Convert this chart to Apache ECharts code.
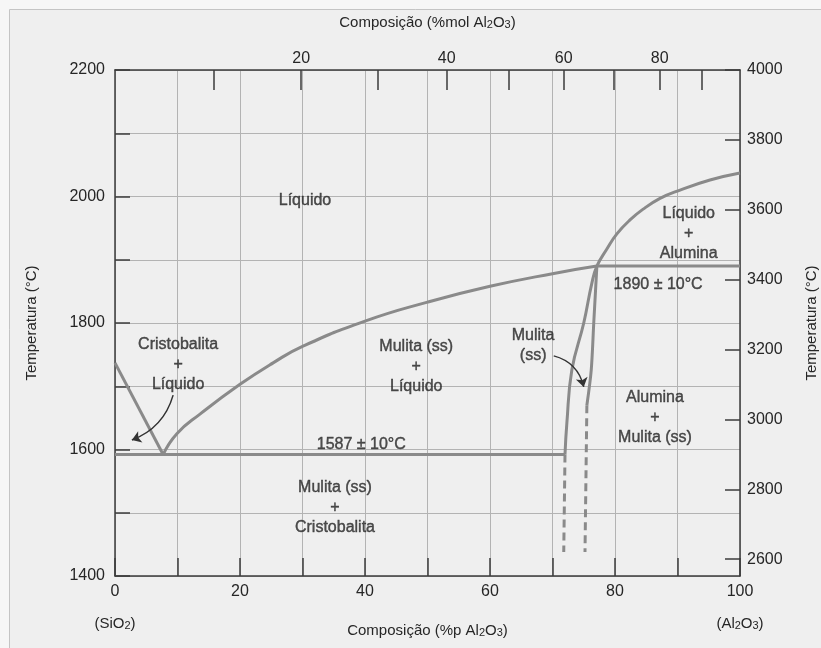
<!DOCTYPE html>
<html><head><meta charset="utf-8">
<script src="https://cdn.jsdelivr.net/npm/echarts@6/dist/echarts.min.js"></script>
<style>html,body{margin:0;padding:0;background:#f6f6f6}#c{width:821px;height:648px}</style>
</head><body><div id="c"></div>
<script>
// ---- data (wt% Al2O3, temperature °C) ----
const leftLiquidus = [[0,1737],[7.7,1592]];
const eutecticLine = [[0,1592],[72.0,1592]];
const mulliteLiquidus = [[7.7,1592],[9.9,1625],[13.6,1656],[20,1703],[25.3,1737],[30,1763],[40,1803],[50,1833],[60,1858],[70,1878],[77.1,1890]];
const aluminaLiquidus = [[72.0,1592],[72.3,1642],[73.1,1726],[75.0,1800],[76.3,1863],[77.1,1890],[78.7,1917],[80.3,1941],[82.4,1963],[84.5,1980],[87.2,1997],[90.1,2009],[95.2,2026],[100,2037]];
const peritecticLine = [[77.1,1890],[100,1890]];
const mulliteRight = [[77.1,1890],[76.6,1800],[76.2,1726],[75.5,1670]];
const mulliteLeftDashed = [[72.0,1592],[71.8,1438]];
const mulliteRightDashed = [[75.5,1670],[75.2,1438]];
const arrowFrom = [[9.3,1686],[70.2,1748]];
const arrowTo = [[2.7,1615],[75.0,1699]];
const arrowBend = [0.25,0.3];
const regionText = ['Líquido','Cristobalita\n+\nLíquido','Mulita (ss)\n+\nLíquido','1587 ± 10°C','Mulita (ss)\n+\nCristobalita','Mulita\n(ss)','Líquido\n+\nAlumina','1890 ± 10°C','Alumina\n+\nMulita (ss)'];
const regionX = [30.4,10.1,48.2,39.4,35.2,66.9,91.8,86.9,86.4];
const regionT = [1994,1735,1731,1608,1508,1765,1941,1860,1651];
const bottomLabels = [0,20,40,60,80,100];
const endMembers = {0:'{t|(SiO}{s|2}{t|)}', 100:'{t|(Al}{s|2}{t|O}{s|3}{t|)}'};
const leftLabels = [1400,1600,1800,2000,2200];
const rightTicks = [2600,2800,3000,3200,3400,3600,3800,4000];
const topMolTicks = [10,20,30,40,50,60,70,80,90];
const topMolLabels = [20,40,60,80];
const bottomTitle = '{t|Composição (%p Al}{s|2}{t|O}{s|3}{t|)}';
const topTitle = '{t|Composição (%mol Al}{s|2}{t|O}{s|3}{t|)}';
const tempTitle = 'Temperatura (°C)';
const M_AL = 101.96, M_SI = 60.08;
// ------------------------------------------------
const molToWt = m => 100*m*M_AL/(m*M_AL+(100-m)*M_SI);
const wtToMol = w => 100*(w/M_AL)/((w/M_AL)+((100-w)/M_SI));

const LINE = '#8a8a8a', FRAME = '#3c3c3c', GRID = '#b3b3b3', TXT = '#262626';
const FONT = 'Liberation Sans, Arial, sans-serif';
const subRich = {
  t:{fontFamily:FONT, fontSize:15, lineHeight:20, color:TXT, verticalAlign:'bottom'},
  s:{fontFamily:FONT, fontSize:11, lineHeight:12, color:TXT, verticalAlign:'bottom'}
};

function phase(data, dashed, smooth){
  return {type:'line', data, xAxisIndex:0, yAxisIndex:0, symbol:'none', smooth: smooth||false,
    lineStyle:{color:LINE, width:3, type: dashed ? [8,5] : 'solid'}, z:3, silent:true};
}

const chart = echarts.init(document.getElementById('c'), null, {renderer:'canvas'});
chart.setOption({
  animation:false,
  backgroundColor:'#f6f6f6',
  graphic:[{type:'rect', left:9, top:9, shape:{width:900, height:700}, style:{fill:'#efefef', stroke:'#c4c4c4', lineWidth:1}, z:-10}],
  grid:{left:115, right:81, top:70, bottom:72, outerBoundsMode:'none', containLabel:false},
  xAxis:[
    {type:'value', position:'bottom', min:0, max:100, interval:10,
     axisLine:{onZero:false, lineStyle:{color:FRAME, width:1.5}},
     axisTick:{inside:true, length:18, lineStyle:{color:FRAME, width:1.5}},
     splitLine:{show:true, lineStyle:{color:GRID, width:1}},
     axisLabel:{customValues:bottomLabels, margin:6, color:TXT,
       formatter: v => endMembers[v] ? '{n|'+v+'}\n' + endMembers[v] : '{n|'+v+'}',
       rich:{n:{fontSize:16, lineHeight:20, fontFamily:FONT, color:TXT},
             t:{fontFamily:FONT, fontSize:15, lineHeight:29, color:TXT, verticalAlign:'bottom'},
             s:{fontFamily:FONT, fontSize:11, lineHeight:20, color:TXT, verticalAlign:'bottom'}}},
     name:bottomTitle, nameLocation:'middle', nameGap:42, nameMoveOverlap:false,
     nameTextStyle:{rich:subRich}},
    {type:'value', position:'top', min:0, max:100,
     axisLine:{onZero:false, lineStyle:{color:FRAME, width:1.5}},
     axisTick:{inside:true, length:20, customValues: topMolTicks.map(molToWt), lineStyle:{color:FRAME, width:1.5}},
     splitLine:{show:false},
     axisLabel:{customValues: topMolLabels.map(molToWt), margin:3, color:TXT, fontFamily:FONT, fontSize:16,
       formatter: v => String(Math.round(wtToMol(v)))},
     name:topTitle, nameLocation:'middle', nameGap:40, nameMoveOverlap:false,
     nameTextStyle:{rich:subRich}}
  ],
  yAxis:[
    {type:'value', position:'left', min:1400, max:2200, interval:100,
     axisLine:{onZero:false, lineStyle:{color:FRAME, width:1.5}},
     axisTick:{inside:true, length:15, lineStyle:{color:FRAME, width:1.5}},
     splitLine:{show:true, lineStyle:{color:GRID, width:1}},
     axisLabel:{customValues:leftLabels, margin:10, color:TXT, fontFamily:FONT, fontSize:16, formatter: v => String(v)},
     name:tempTitle, nameLocation:'middle', nameGap:76, nameRotate:90, nameMoveOverlap:false,
     nameTextStyle:{fontFamily:FONT, fontSize:15, color:TXT}},
    {type:'value', position:'right', min:2552, max:4000,
     axisLine:{show:true, onZero:false, lineStyle:{color:FRAME, width:1.5}},
     axisTick:{show:true, inside:true, length:15, customValues:rightTicks, lineStyle:{color:FRAME, width:1.5}},
     splitLine:{show:false},
     axisLabel:{customValues:rightTicks, margin:7, color:TXT, fontFamily:FONT, fontSize:16, formatter: v => String(v)},
     name:tempTitle, nameLocation:'middle', nameGap:64, nameRotate:90, nameMoveOverlap:false,
     nameTextStyle:{fontFamily:FONT, fontSize:15, color:TXT}}
  ],
  series:[
    phase(leftLiquidus),
    phase(eutecticLine),
    phase(mulliteLiquidus, false, 0.5),
    phase(aluminaLiquidus, false, 0.45),
    phase(peritecticLine),
    phase(mulliteRight, false, 0.3),
    phase(mulliteLeftDashed, true),
    phase(mulliteRightDashed, true),
    {type:'lines', coordinateSystem:'cartesian2d', xAxisIndex:0, yAxisIndex:0, polyline:false, silent:true, z:4,
     symbol:['none','arrow'], symbolSize:9,
     lineStyle:{color:'#333', width:1.5, opacity:1},
     data: arrowFrom.map((p,i)=>({coords:[p, arrowTo[i]], lineStyle:{curveness:arrowBend[i]}}))},
    {type:'scatter', xAxisIndex:0, yAxisIndex:0, symbolSize:1, silent:true, z:5,
     itemStyle:{color:'rgba(0,0,0,0)'},
     data: regionText.map((t,i)=>({value:[regionX[i], regionT[i]], name:t})),
     label:{show:true, position:'inside', formatter: p => p.name, color:TXT, fontFamily:FONT, fontSize:16, lineHeight:20,
       align:'center', verticalAlign:'middle', textBorderColor:TXT, textBorderWidth:0.4}}
  ]
});
</script></body></html>
